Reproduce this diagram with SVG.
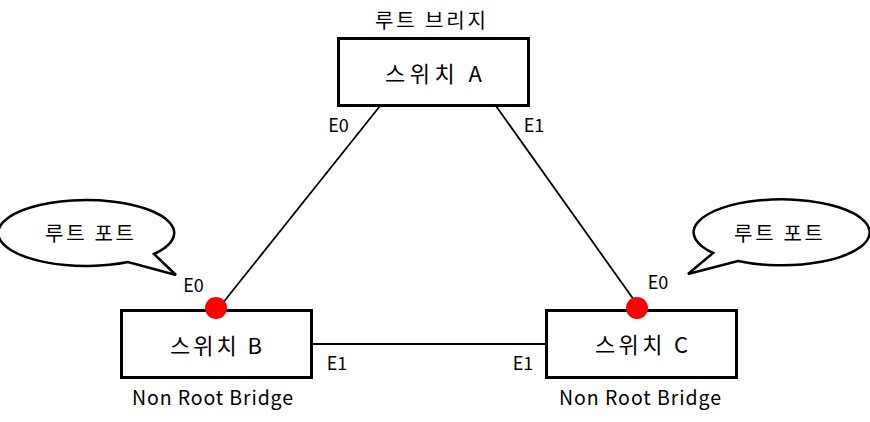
<svg xmlns="http://www.w3.org/2000/svg" width="870" height="422" viewBox="0 0 870 422">
<style>
.box{fill:#fff;stroke:#000;stroke-width:3}
.bub{fill:#fff;stroke:#000;stroke-width:2.5;stroke-linejoin:miter}
.ln{stroke:#000;stroke-width:1.8;fill:none}
text{font-family:"Noto Sans CJK KR","Noto Sans",sans-serif;fill:#000;text-anchor:middle}
.t{font-size:22px}
.s{font-size:20px}
.n{font-size:19.5px}
.p{font-size:18px}
</style>
<rect width="870" height="422" fill="#fff"/>
<g id="connectors">
<line class="ln" x1="380" y1="106" x2="222" y2="304"/>
<line class="ln" x1="496" y1="106" x2="634" y2="300"/>
<line class="ln" x1="312" y1="344" x2="546" y2="344"/>
</g>
<g id="switchA">
<text class="s" x="430.5" y="28" textLength="111" lengthAdjust="spacing">루트 브리지</text>
<rect class="box" x="338.5" y="38.5" width="190" height="67"/>
<text class="t" x="433.5" y="82" textLength="97" lengthAdjust="spacing">스위치 A</text>
<text class="p" x="338.5" y="132">E0</text>
<text class="p" x="534" y="132">E1</text>
</g>
<g id="switchB">
<rect class="box" x="121.5" y="310.5" width="190" height="67"/>
<text class="t" x="216" y="354" textLength="92" lengthAdjust="spacing">스위치 B</text>
<text class="n" x="212.5" y="405" textLength="161" lengthAdjust="spacing">Non Root Bridge</text>
<text class="p" x="193.5" y="292">E0</text>
<text class="p" x="337" y="370">E1</text>
<circle cx="216" cy="308" r="11" fill="#f00"/>
</g>
<g id="switchC">
<rect class="box" x="546.5" y="310.5" width="190" height="67"/>
<text class="t" x="641.5" y="353" textLength="93" lengthAdjust="spacing">스위치 C</text>
<text class="n" x="640" y="405" textLength="162" lengthAdjust="spacing">Non Root Bridge</text>
<text class="p" x="658" y="289">E0</text>
<text class="p" x="523" y="370">E1</text>
<circle cx="637" cy="308" r="11" fill="#f00"/>
</g>
<g id="bubbleB">
<path class="bub" d="M154,254 A88,33 0 1 0 128,262 L176,275 Z"/>
<text class="s" x="89.5" y="241" textLength="89" lengthAdjust="spacing">루트 포트</text>
</g>
<g id="bubbleC">
<path class="bub" d="M738,261 A88,33 0 1 0 713,253 L688,274 Z"/>
<text class="s" x="778.5" y="241" textLength="89" lengthAdjust="spacing">루트 포트</text>
</g>
</svg>
